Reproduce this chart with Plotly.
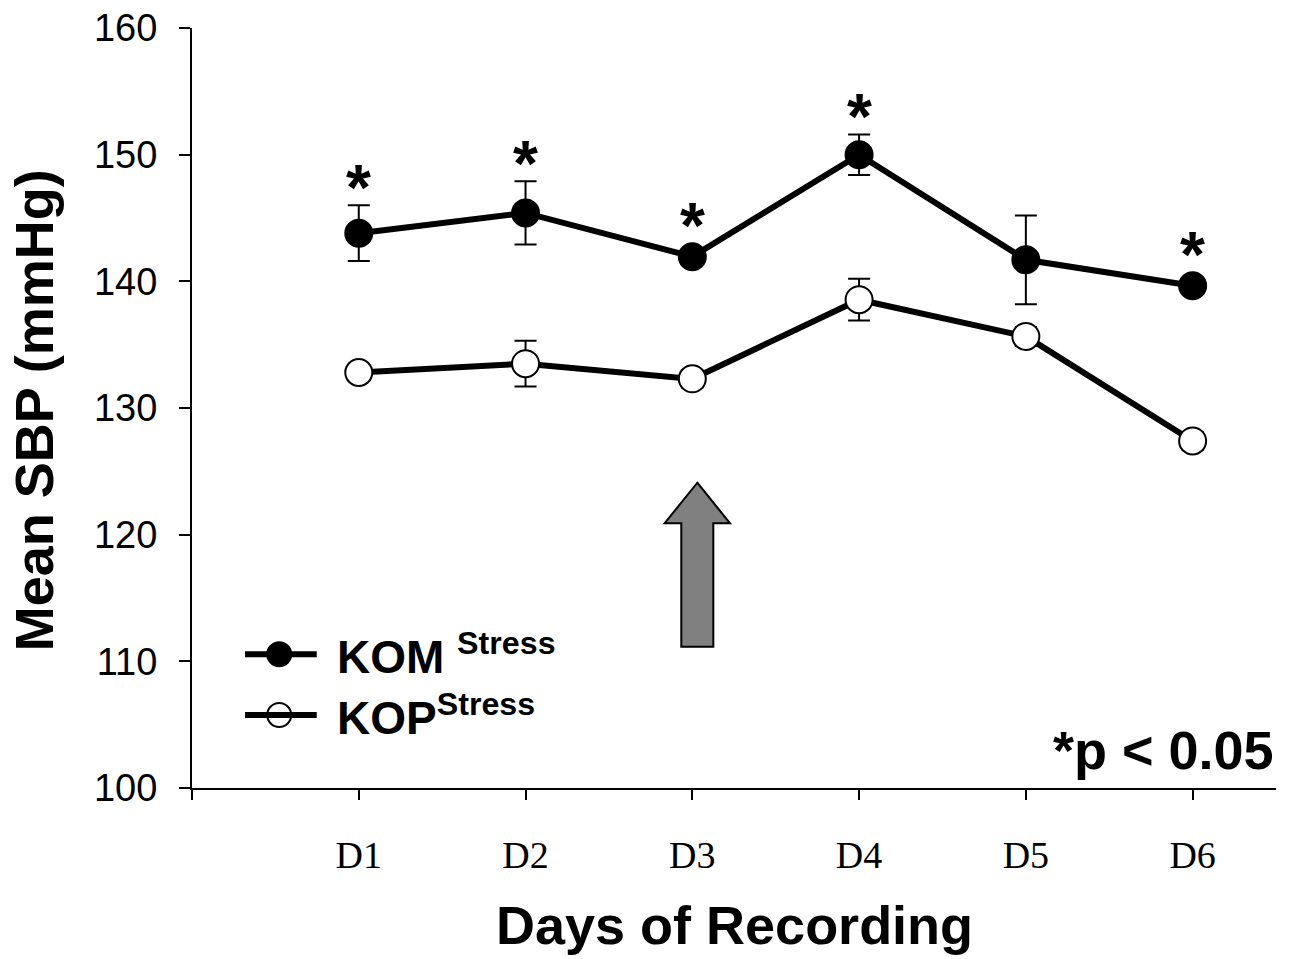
import plotly.graph_objects as go

# Recording days and mean systolic blood pressure (mmHg) with SEM
days = ["D1", "D2", "D3", "D4", "D5", "D6"]
day_pos = [1, 2, 3, 4, 5, 6]

kom_mean = [143.8, 145.4, 141.95, 150.0, 141.7, 139.65]
kom_sem = [2.2, 2.5, 0.4, 1.6, 3.5, 0.45]

kop_mean = [132.8, 133.5, 132.3, 138.55, 135.65, 127.4]
kop_sem = [0.3, 1.8, 0.7, 1.65, 0.75, 0.7]

# days where KOM differs significantly from KOP
significant = [True, True, True, True, False, True]

y_ticks = [100, 110, 120, 130, 140, 150, 160]

W, H = 1294, 959
M_L, M_R, M_T, M_B = 192, 18, 28, 171
X_RANGE = [0, 6.5]
Y_RANGE = [100, 160]

plot_h = H - M_T - M_B
px_per_unit_y = plot_h / (Y_RANGE[1] - Y_RANGE[0])
marker_size = 27

fig = go.Figure()

fig.add_trace(go.Scatter(
    x=day_pos, y=kom_mean,
    mode="lines+markers",
    line=dict(color="black", width=6),
    marker=dict(size=marker_size, color="black", line=dict(color="black", width=2)),
    error_y=dict(type="data", array=kom_sem, visible=True, color="black", thickness=2, width=11),
    showlegend=False,
))

fig.add_trace(go.Scatter(
    x=day_pos, y=kop_mean,
    mode="lines+markers",
    line=dict(color="black", width=6),
    marker=dict(size=marker_size, color="white", line=dict(color="black", width=2)),
    error_y=dict(type="data", array=kop_sem, visible=True, color="black", thickness=2, width=11),
    showlegend=False,
))

# significance asterisks above the KOM points
annotations = []
marker_r_units = (marker_size / 2) / px_per_unit_y
for xp, m, s, sig in zip(day_pos, kom_mean, kom_sem, significant):
    if not sig:
        continue
    top = m + max(s, marker_r_units)
    annotations.append(dict(
        x=xp, y=top, xref="x", yref="y", text="<b>*</b>", showarrow=False,
        font=dict(family="Liberation Sans, Arial", size=64, color="black"),
        xanchor="center", yanchor="middle", yshift=17,
    ))

# stress onset arrow (gray block arrow)
ax_c, ax_tip, ax_head, ax_base = 3.03, 124.1, 120.9, 111.15
head_hw, shaft_hw = 0.196, 0.096
arrow_path = (
    f"M {ax_c} {ax_tip} L {ax_c + head_hw} {ax_head} L {ax_c + shaft_hw} {ax_head} "
    f"L {ax_c + shaft_hw} {ax_base} L {ax_c - shaft_hw} {ax_base} "
    f"L {ax_c - shaft_hw} {ax_head} L {ax_c - head_hw} {ax_head} Z"
)
shapes = [dict(type="path", path=arrow_path, xref="x", yref="y",
               fillcolor="#808080", line=dict(color="black", width=2))]

# legend keys drawn inside the plot
leg_x0, leg_x1, leg_xm = 0.318, 0.748, 0.523
leg_rows = [(110.56, "black", "<b>KOM <sup>Stress</sup></b>"),
            (105.76, "white", "<b>KOP<sup>Stress</sup></b>")]
for ly, fillc, label in leg_rows:
    shapes.append(dict(type="line", x0=leg_x0, x1=leg_x1, y0=ly, y1=ly,
                       xref="x", yref="y", line=dict(color="black", width=6)))
    fig.add_trace(go.Scatter(
        x=[leg_xm], y=[ly], mode="markers",
        marker=dict(size=24, color=fillc, line=dict(color="black", width=2)),
        showlegend=False, hoverinfo="skip",
    ))
    annotations.append(dict(
        x=0.857, y=ly, xref="x", yref="y", text=label, showarrow=False,
        font=dict(family="Liberation Sans, Arial", size=46, color="black"),
        xanchor="left", yanchor="middle", yshift=0,
    ))

annotations.append(dict(
    x=1.0, y=0.05, xref="paper", yref="paper", text="<b>*p < 0.05</b>", showarrow=False,
    font=dict(family="Liberation Sans, Arial", size=54, color="black"),
    xanchor="right", yanchor="middle",
))

# axis titles
annotations.append(dict(
    x=(734.5 - M_L) / (W - M_L - M_R), y=-0.18, xref="paper", yref="paper",
    text="<b>Days of Recording</b>", showarrow=False,
    font=dict(family="Liberation Sans, Arial", size=54, color="black"),
    xanchor="center", yanchor="middle",
))
annotations.append(dict(
    x=(34 - M_L) / (W - M_L - M_R), y=0.497, xref="paper", yref="paper",
    text="<b>Mean SBP (mmHg)</b>", showarrow=False, textangle=-90,
    font=dict(family="Liberation Sans, Arial", size=54, color="black"),
    xanchor="center", yanchor="middle",
))

fig.update_layout(
    width=W, height=H,
    margin=dict(l=M_L, r=M_R, t=M_T, b=M_B, autoexpand=False),
    paper_bgcolor="white", plot_bgcolor="white",
    shapes=shapes, annotations=annotations,
    xaxis=dict(
        range=X_RANGE, tickvals=[0] + day_pos, ticktext=[" "] + days,
        showgrid=False, zeroline=False, showline=True, linecolor="black", linewidth=2,
        ticks="outside", ticklen=10, tickwidth=2, tickcolor="black",
        tickfont=dict(family="Liberation Serif, Times New Roman", size=38, color="black"),
        ticklabelstandoff=22, automargin=False,
    ),
    yaxis=dict(
        range=Y_RANGE, tickvals=y_ticks,
        showgrid=False, zeroline=False, showline=True, linecolor="black", linewidth=2,
        ticks="outside", ticklen=11, tickwidth=2, tickcolor="black",
        tickfont=dict(family="Liberation Sans, Arial", size=38, color="black"),
        ticklabelstandoff=14, automargin=False,
    ),
)

fig.write_html("out.html")
